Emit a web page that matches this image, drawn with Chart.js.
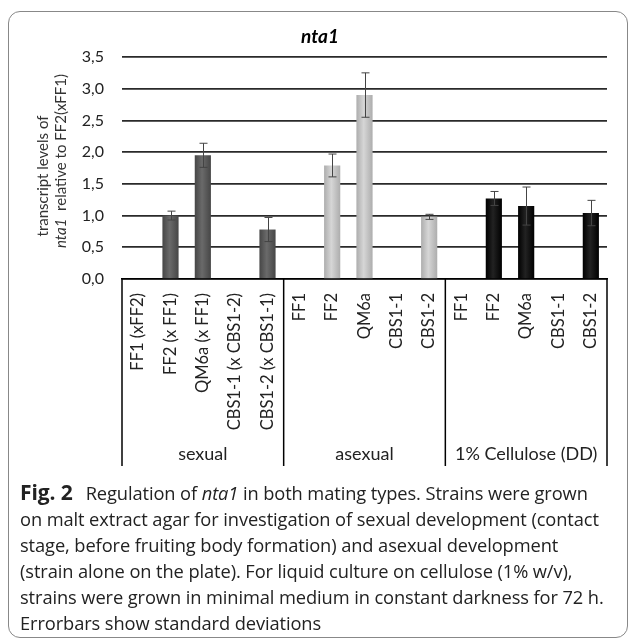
<!DOCTYPE html>
<html>
<head>
<meta charset="utf-8">
<script src="https://cdn.jsdelivr.net/npm/chart.js@4.4.1/dist/chart.umd.min.js"></script>
<style>
  body { margin: 0; background: #fff; width: 630px; height: 639px; overflow: hidden; position: relative; }
  #frame { position: absolute; left: 8px; top: 11px; width: 620px; height: 627px; border: 1.5px solid #888; border-radius: 12px; box-sizing: border-box; }
  #chart { position: absolute; left: 0; top: 0; }
  #caption { position: absolute; left: 20px; top: 479px; font-family: "Open Sans", sans-serif; font-size: 18.3px; line-height: 26px; color: #222; white-space: nowrap; letter-spacing: -0.1px; }
  #caption b { font-size: 21px; font-weight: 700; margin-right: 13px; }
</style>
</head>
<body>
<div id="frame"></div>
<canvas id="chart" width="630" height="480"></canvas>
<div id="caption">
  <div><b>Fig. 2</b>Regulation of <i>nta1</i> in both mating types. Strains were grown</div>
  <div>on malt extract agar for investigation of sexual development (contact</div>
  <div>stage, before fruiting body formation) and asexual development</div>
  <div>(strain alone on the plate). For liquid culture on cellulose (1% w/v),</div>
  <div>strains were grown in minimal medium in constant darkness for 72 h.</div>
  <div>Errorbars show standard deviations</div>
</div>
<script>
// strains per condition
const strains = ["FF1 (xFF2)", "FF2 (x FF1)", "QM6a (x FF1)", "CBS1-1 (x CBS1-2)", "CBS1-2 (x CBS1-1)",
                 "FF1", "FF2", "QM6a", "CBS1-1", "CBS1-2",
                 "FF1", "FF2", "QM6a", "CBS1-1", "CBS1-2"];
const groups = ["sexual", "asexual", "1% Cellulose (DD)"];

// transcript levels relative to FF2(xFF1) and standard deviations
const sexualMean = [null, 1.00, 1.95, null, 0.78];
const sexualSD = [null, 0.07, 0.19, null, 0.19];
const asexualMean = [null, 1.79, 2.90, null, 0.98];
const asexualSD = [null, 0.18, 0.35, null, 0.04];
const celluloseMean = [null, 1.27, 1.15, null, 1.04];
const celluloseSD = [null, 0.11, 0.30, null, 0.20];

const yTickLabels = ["0,0", "0,5", "1,0", "1,5", "2,0", "2,5", "3,0", "3,5"];

// edge / centre shades for each group's bars
const groupShades = [["#464646", "#6a6a6a"], ["#adadad", "#d6d6d6"], ["#000000", "#222222"]];
const means = [...sexualMean, ...asexualMean, ...celluloseMean];
const sds = [...sexualSD, ...asexualSD, ...celluloseSD];

function barFill(c) {
  const chart = c.chart;
  const shade = groupShades[Math.floor(c.dataIndex / 5)];
  const x = chart.scales && chart.scales.x;
  if (!x || !chart.chartArea) return shade[0];
  const step = x.getPixelForValue(1) - x.getPixelForValue(0);
  const cx = x.getPixelForValue(c.dataIndex);
  const g = chart.ctx.createLinearGradient(cx - step / 4, 0, cx + step / 4, 0);
  g.addColorStop(0, shade[0]);
  g.addColorStop(0.45, shade[1]);
  g.addColorStop(1, shade[0]);
  return g;
}

const extras = {
  id: "extras",
  afterDatasetsDraw(chart) {
    const { ctx, scales: { x, y } } = chart;
    ctx.save();
    ctx.strokeStyle = "#444";
    ctx.lineWidth = 1;
    means.forEach((m, i) => {
      if (m == null) return;
      const px = Math.round(x.getPixelForValue(i)) + 0.5;
      const top = y.getPixelForValue(m + sds[i]);
      const bot = y.getPixelForValue(m - sds[i]);
      ctx.beginPath();
      ctx.moveTo(px, top); ctx.lineTo(px, bot);
      ctx.moveTo(px - 4, top); ctx.lineTo(px + 4, top);
      ctx.moveTo(px - 4, bot); ctx.lineTo(px + 4, bot);
      ctx.stroke();
    });
    ctx.restore();
  },
  afterDraw(chart) {
    const { ctx, scales: { x, y } } = chart;
    const step = x.getPixelForValue(1) - x.getPixelForValue(0);
    const start = x.getPixelForValue(0) - step / 2;
    ctx.save();
    // title
    ctx.fillStyle = "#000";
    ctx.font = "italic bold 19px Lato";
    ctx.textAlign = "center";
    ctx.textBaseline = "middle";
    ctx.fillText("nta1", 320, 37);
    // group separators
    ctx.strokeStyle = "#000";
    ctx.lineWidth = 1.5;
    for (let k = 0; k <= 3; k++) {
      const bx = start + k * 5 * step;
      ctx.beginPath();
      ctx.moveTo(bx, x.top);
      ctx.lineTo(bx, 466);
      ctx.stroke();
    }
    ctx.fillStyle = "#222";
    ctx.font = "18px Lato";
    groups.forEach((g, k) => {
      ctx.fillText(g, start + (k * 5 + 2.5) * step, 454);
    });
    // y axis title
    ctx.fillStyle = "#333";
    ctx.font = "15px Lato";
    ctx.save();
    ctx.translate(43, 176);
    ctx.rotate(-Math.PI / 2);
    ctx.fillText("transcript levels of", 0, 0);
    ctx.restore();
    ctx.save();
    ctx.translate(61, 161);
    ctx.rotate(-Math.PI / 2);
    ctx.textAlign = "left";
    const a = "nta1";
    const b = "  relative to FF2(xFF1)";
    ctx.font = "15px Lato";
    const wb = ctx.measureText(b).width;
    ctx.font = "italic 15px Lato";
    const wa = ctx.measureText(a).width;
    const x0 = -(wa + wb) / 2;
    ctx.fillText(a, x0, 0);
    ctx.font = "15px Lato";
    ctx.fillText(b, x0 + wa, 0);
    ctx.restore();
    ctx.restore();
  }
};

new Chart(document.getElementById("chart"), {
  type: "bar",
  data: {
    labels: strains,
    datasets: [{
      data: means,
      backgroundColor: barFill,
      borderWidth: 0,
      barPercentage: 0.5,
      categoryPercentage: 1.0
    }]
  },
  options: {
    responsive: false,
    animation: false,
    layout: { padding: { left: 0, right: 23, top: 57, bottom: 0 } },
    plugins: {
      legend: { display: false },
      tooltip: { enabled: false },
      title: { display: false }
    },
    scales: {
      x: {
        afterFit: (s) => { s.height = 201; },
        grid: { display: false, drawTicks: false },
        border: { display: true, color: "#000", width: 1.5 },
        ticks: {
          autoSkip: false, minRotation: 90, maxRotation: 90, padding: 14,
          color: "#222", font: { family: "Lato", size: 16.5 }
        }
      },
      y: {
        min: 0, max: 3.5,
        afterFit: (s) => { s.width = 122; },
        grid: { color: "#2a2a2a", lineWidth: 1.7, drawTicks: false },
        border: { display: false },
        ticks: {
          stepSize: 0.5, padding: 18, color: "#222",
          font: { family: "Lato", size: 16 },
          callback: (v, i) => yTickLabels[i]
        }
      }
    }
  },
  plugins: [extras]
});
</script>
</body>
</html>
